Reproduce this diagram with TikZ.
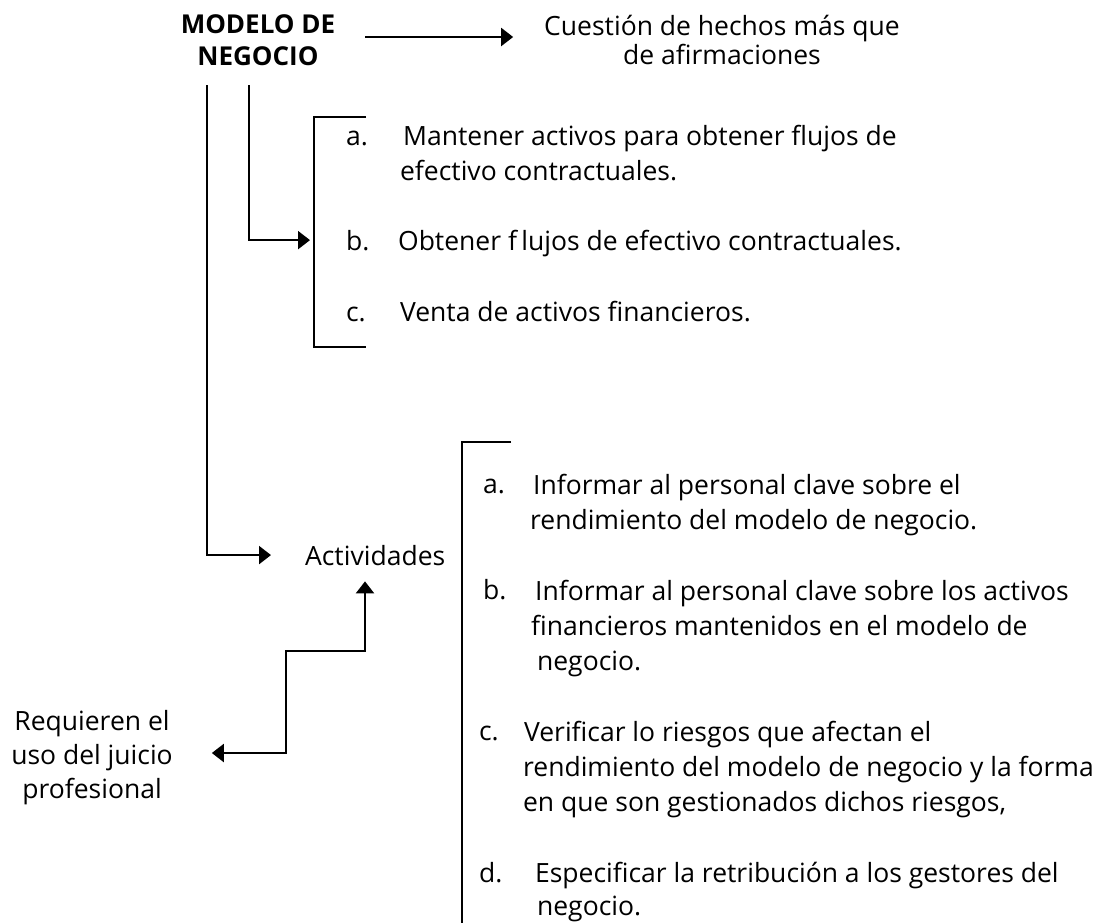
\documentclass[tikz,border=0pt]{standalone}
\usepackage{fontspec}
\setmainfont{Open Sans}
\usetikzlibrary{arrows.meta,positioning}

\tikzset{
  txt/.style={inner sep=0pt,font=\fontsize{26.5}{35}\selectfont},
  item/.style={txt,anchor=base west,align=left},
  title/.style={inner sep=0pt,font=\bfseries\fontsize{26}{32}\selectfont,align=center},
}

\begin{document}
\begin{tikzpicture}[x=1pt,y=-1pt,>={Triangle[length=12pt,width=18pt]},line width=2.2pt]
  \useasboundingbox (0,0) rectangle (1107,922);

  % top row
  \node[title] (modelo) at (258,40) {MODELO DE\\NEGOCIO};
  \node[txt,align=center,font=\fontsize{26.5}{29}\selectfont] (cuestion) at (722,40) {Cuesti\'on de hechos m\'as que\\de afirmaciones};
  \coordinate (m0) at (365,37);
  \draw[->,shorten >=30pt] (m0) -- (m0 -| cuestion.west);

  % first list (base = last line)
  \node[item] (la1) at (345,145) {a.};
  \node[item] (ta1) at (402,180) {Mantener activos para obtener flujos de\\\hspace*{-3pt}efectivo contractuales.};
  \node[item] (lb1) at (345,250) {b.};
  \node[item] (tb1) at (397,250) {Obtener f\,lujos de efectivo contractuales.};
  \node[item] (lc1) at (345,321) {c.};
  \node[item] (tc1) at (399,321) {Venta de activos financieros.};
  \draw (366,117) -- (314,117) -- (314,347) -- (366,347);

  % second list
  \node[item] (activ) at (304,565) {Actividades};
  \node[item] (la2) at (482,493) {a.};
  \node[item] (ta2) at (532,529) {Informar al personal clave sobre el\\\hspace*{-3pt}rendimiento del modelo de negocio.};
  \node[item] (lb2) at (482,599) {b.};
  \node[item] (tb2) at (534,670) {Informar al personal clave sobre los activos\\\hspace*{-4pt}financieros mantenidos en el modelo de\\\hspace*{2pt}negocio.};
  \node[item] (lc2) at (478,740) {c.};
  \node[item] (tc2) at (523,811) {Verificar lo riesgos que afectan el\\\hspace*{-1pt}rendimiento del modelo de negocio y la forma\\\hspace*{-1pt}en que son gestionados dichos riesgos,};
  \node[item] (ld2) at (478,882) {d.};
  \node[item,font=\fontsize{26.5}{33}\selectfont] (td2) at (534,915) {Especificar la retribuci\'on a los gestores del\\\hspace*{2pt}negocio.};
  \draw (511,442) -- (462,442) -- (462,930);

  \node[txt,align=center,font=\fontsize{26.5}{34}\selectfont] (requieren) at (92,758) {Requieren el\\uso del juicio\\profesional};

  % connectors
  \coordinate (m1) at (207,85);
  \coordinate (m2) at (249,85);
  \draw[->,shorten >=35pt] (m2) |- (lb1);
  \draw[->,shorten >=33pt] (m1) |- (activ);
  \coordinate (s1) at (365,651);
  \coordinate (s2) at (286,651);
  \coordinate (s3) at (286,753);
  \draw[<->,shorten <=15pt,shorten >=38pt] (activ.south -| s1) -- (s1) -- (s2) -- (s3) -- (s3 -| requieren.east);
\end{tikzpicture}
\end{document}
